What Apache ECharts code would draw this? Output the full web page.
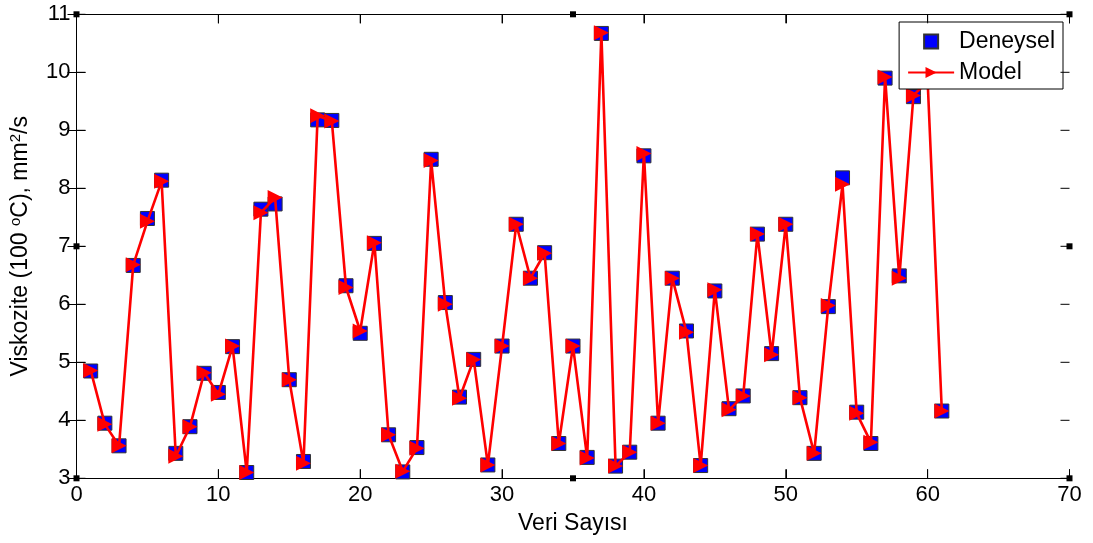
<!DOCTYPE html>
<html>
<head>
<meta charset="utf-8">
<script src="https://cdn.jsdelivr.net/npm/echarts@6/dist/echarts.min.js"></script>
<style>
html,body{margin:0;padding:0;background:#fff;}
#c{width:1093px;height:543px;}
</style>
</head>
<body>
<div id="c"></div>
<script>
const xTicks = [0, 10, 20, 30, 40, 50, 60, 70];
const yTicks = [3, 4, 5, 6, 7, 8, 9, 10, 11];
const deneysel = [4.85, 3.95, 3.56, 6.67, 7.48, 8.14, 3.43, 3.89, 4.81, 4.48,
  5.27, 3.10, 7.64, 7.73, 4.70, 3.29, 9.18, 9.17, 6.32, 5.50,
  7.05, 3.75, 3.11, 3.53, 8.50, 6.03, 4.40, 5.05, 3.23, 5.28,
  7.38, 6.45, 6.89, 3.60, 5.28, 3.36, 10.67, 3.21, 3.45, 8.56,
  3.95, 6.45, 5.54, 3.22, 6.23, 4.20, 4.42, 7.21, 5.15, 7.38,
  4.39, 3.43, 5.96, 8.18, 4.14, 3.60, 9.90, 6.49, 9.58, 9.85, 4.16];
const model = [4.86, 3.93, 3.56, 6.68, 7.43, 8.12, 3.38, 3.89, 4.82, 4.45,
  5.28, 3.10, 7.58, 7.84, 4.70, 3.26, 9.25, 9.16, 6.29, 5.54,
  7.06, 3.75, 3.12, 3.52, 8.48, 6.00, 4.38, 5.05, 3.23, 5.28,
  7.38, 6.45, 6.88, 3.60, 5.28, 3.35, 10.68, 3.21, 3.45, 8.60,
  3.95, 6.45, 5.52, 3.22, 6.25, 4.18, 4.42, 7.21, 5.13, 7.38,
  4.39, 3.43, 5.98, 8.07, 4.12, 3.62, 9.92, 6.45, 9.60, 9.85, 4.16];

const FONT = 'Liberation Sans, Arial, sans-serif';
const expData = deneysel.map((v, i) => [i + 1, v]);
const modData = model.map((v, i) => [i + 1, v]);
const xMin = xTicks[0], xMax = xTicks[xTicks.length - 1];
const yMin = yTicks[0], yMax = yTicks[yTicks.length - 1];

const chart = echarts.init(document.getElementById('c'));
function aLine() { return {show: true, lineStyle: {color: '#000', width: 1}}; }
function aTick() { return {show: true, inside: true, length: 9, lineStyle: {color: '#000', width: 1}}; }
chart.setOption({
  animation: false,
  backgroundColor: '#fff',
  grid: {left: 76.5, right: 23.5, top: 14.3, bottom: 64.7, containLabel: false},
  xAxis: [{
    type: 'value', min: xMin, max: xMax, interval: 10,
    name: 'Veri Sayısı', nameLocation: 'middle', nameGap: 34,
    nameTextStyle: {fontFamily: FONT, fontSize: 23, color: '#000'},
    axisLine: aLine(), axisTick: aTick(), splitLine: {show: false},
    axisLabel: {fontFamily: FONT, fontSize: 22, color: '#000', margin: 6}
  }, {
    type: 'value', position: 'top', min: xMin, max: xMax, interval: 10,
    axisLine: aLine(), axisTick: aTick(), splitLine: {show: false}, axisLabel: {show: false}
  }],
  yAxis: [{
    type: 'value', min: yMin, max: yMax, interval: 1,
    name: 'Viskozite (100 {sup|o}C), mm{sup|2}/s', nameLocation: 'middle', nameGap: 43, nameRotate: 90,
    nameTextStyle: {fontFamily: FONT, fontSize: 23, color: '#000',
      rich: {sup: {fontFamily: FONT, fontSize: 15, color: '#000', verticalAlign: 'top', padding: [0, 0, 10, 0]}}},
    axisLine: aLine(), axisTick: aTick(), splitLine: {show: false},
    axisLabel: {fontFamily: FONT, fontSize: 22, color: '#000', margin: 6}
  }, {
    type: 'value', position: 'right', min: yMin, max: yMax, interval: 1,
    axisLine: aLine(), axisTick: aTick(), splitLine: {show: false}, axisLabel: {show: false}
  }],
  legend: {
    orient: 'vertical', right: 30, top: 22,
    backgroundColor: '#fff', borderColor: '#000', borderWidth: 1,
    padding: [8, 8, 5, 8], itemGap: 8, itemWidth: 46, itemHeight: 14,
    textStyle: {fontFamily: FONT, fontSize: 23, color: '#000'},
    data: [
      {name: 'Deneysel', icon: 'path://M0,0L10,0L10,10L0,10Z'},
      {name: 'Model'}
    ]
  },
  series: [{
    name: 'Deneysel', type: 'scatter', data: expData,
    symbol: 'rect', symbolSize: 14,
    itemStyle: {color: '#0000ff', borderColor: '#333', borderWidth: 1, opacity: 1},
    z: 2
  }, {
    name: 'Model', type: 'line', data: modData,
    symbol: 'triangle', symbolSize: 15, symbolRotate: -90, showAllSymbol: true,
    lineStyle: {color: '#ff0000', width: 2.6},
    itemStyle: {color: '#ff0000', borderWidth: 0},
    clip: false, z: 3
  }]
});

// Box ticks (inward) and MATLAB-style selection handles on the axes frame
const g = [];
const TL = 9;
xTicks.forEach(t => {
  const b = chart.convertToPixel({xAxisIndex: 0, yAxisIndex: 0}, [t, yMin]);
  const tp = chart.convertToPixel({xAxisIndex: 0, yAxisIndex: 0}, [t, yMax]);
  g.push({type: 'line', shape: {x1: b[0], y1: b[1], x2: b[0], y2: b[1] - TL}, style: {stroke: '#000', lineWidth: 1}, z: 50});
  g.push({type: 'line', shape: {x1: tp[0], y1: tp[1], x2: tp[0], y2: tp[1] + TL}, style: {stroke: '#000', lineWidth: 1}, z: 50});
});
yTicks.forEach(t => {
  const l = chart.convertToPixel({xAxisIndex: 0, yAxisIndex: 0}, [xMin, t]);
  const r = chart.convertToPixel({xAxisIndex: 0, yAxisIndex: 0}, [xMax, t]);
  g.push({type: 'line', shape: {x1: l[0], y1: l[1], x2: l[0] + TL, y2: l[1]}, style: {stroke: '#000', lineWidth: 1}, z: 50});
  g.push({type: 'line', shape: {x1: r[0], y1: r[1], x2: r[0] - TL, y2: r[1]}, style: {stroke: '#000', lineWidth: 1}, z: 50});
});
const xMid = (xMin + xMax) / 2, yMid = (yMin + yMax) / 2;
const handles = [[xMin, yMin], [xMin, yMid], [xMin, yMax], [xMid, yMax], [xMax, yMax], [xMax, yMid], [xMax, yMin], [xMid, yMin]];
handles.forEach(p => {
  const px = chart.convertToPixel({xAxisIndex: 0, yAxisIndex: 0}, p);
  g.push({type: 'rect', shape: {x: px[0] - 3, y: px[1] - 3, width: 6, height: 6}, style: {fill: '#000'}, z: 100});
});
chart.setOption({graphic: g});
</script>
</body>
</html>
